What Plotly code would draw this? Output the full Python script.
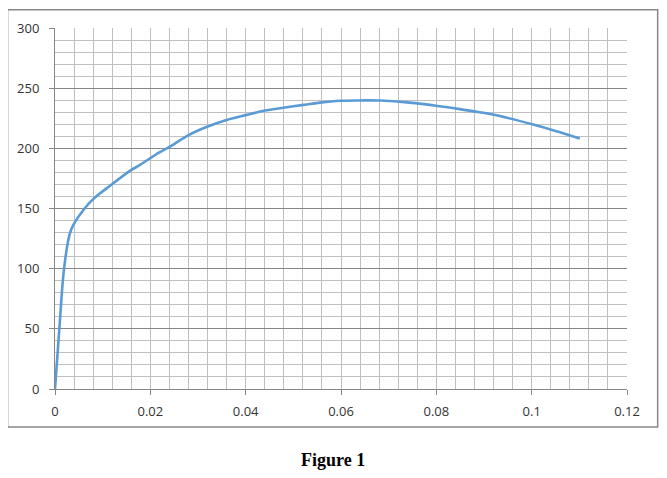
import plotly.graph_objects as go

# strain / stress
strain = [0.0, 0.001, 0.00195, 0.0034, 0.006, 0.008, 0.0119, 0.0158, 0.0179,
          0.0219, 0.0242, 0.028, 0.0319, 0.036, 0.0402, 0.0441, 0.0521,
          0.0556, 0.0598, 0.0640, 0.0682, 0.0744, 0.0807, 0.0849, 0.0891,
          0.0926, 0.1003, 0.1050, 0.1101]
stress = [0.0, 55.0, 101.6, 132.6, 149.0, 157.8, 170.0, 181.5, 186.4,
          196.6, 201.6, 211.0, 218.0, 223.6, 227.8, 231.4, 236.1,
          238.0, 239.5, 239.8, 239.7, 238.0, 235.0, 232.6, 230.0,
          227.5, 219.8, 214.5, 208.2]

tick_font = dict(family="Open Sans", size=13, color="#333333")

fig = go.Figure(
    go.Scatter(
        x=strain,
        y=stress,
        mode="lines",
        line=dict(color="#5b9bd5", width=2.6),
        line_shape="spline",
        hoverinfo="skip",
    )
)

fig.update_xaxes(
    range=[0, 0.12],
    tickmode="linear",
    tick0=0,
    dtick=0.02,
    showgrid=True,
    gridcolor="#bfbfbf",
    minor=dict(tick0=0, dtick=0.004, showgrid=True, gridcolor="#bfbfbf"),
    showline=True,
    linecolor="#868686",
    ticks="outside",
    ticklen=5,
    tickcolor="#868686",
    ticklabelstandoff=5,
    zeroline=False,
    tickfont=tick_font,
)

fig.update_yaxes(
    range=[0, 300],
    tickmode="linear",
    tick0=0,
    dtick=50,
    showgrid=True,
    gridcolor="#868686",
    minor=dict(tick0=0, dtick=10, showgrid=True, gridcolor="#bfbfbf"),
    showline=True,
    linecolor="#868686",
    ticks="outside",
    ticklen=5,
    tickcolor="#868686",
    ticklabelstandoff=7,
    zeroline=False,
    tickfont=tick_font,
)

# page body adds an 8px offset, so the figure is 8px smaller than the window
fig.update_layout(
    width=659,
    height=470,
    margin=dict(l=47, r=40, t=20, b=89, autoexpand=False),
    plot_bgcolor="white",
    paper_bgcolor="white",
    showlegend=False,
    shapes=[
        dict(
            type="rect",
            xref="paper", yref="paper",
            x0=-0.0829, x1=1.0536, y0=-0.1054, y1=1.0507,
            line=dict(color="#888888", width=1.5),
            fillcolor="rgba(0,0,0,0)",
            layer="below",
        )
    ],
    annotations=[
        dict(
            text="<b>Figure 1</b>",
            xref="paper", yref="paper",
            x=0.486, y=-0.197,
            yanchor="middle",
            showarrow=False,
            font=dict(family="Liberation Serif", size=18, color="black"),
        )
    ],
)

fig.write_html("out.html")
